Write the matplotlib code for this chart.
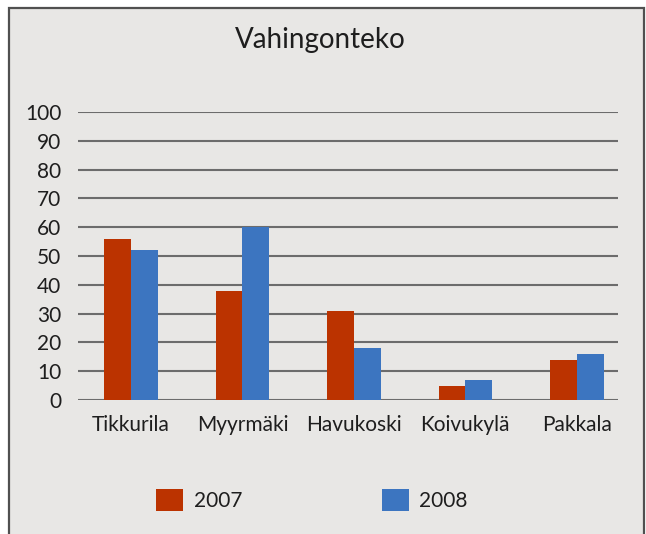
import matplotlib.pyplot as plt
import numpy as np
from matplotlib.patches import Rectangle

categories = ["Tikkurila", "Myyrmäki", "Havukoski", "Koivukylä", "Pakkala"]
values_2007 = [56, 38, 31, 5, 14]
values_2008 = [52, 60, 18, 7, 16]
series_labels = ["2007", "2008"]
yticks = list(range(0, 101, 10))

plt.rcParams['font.family'] = ['Lato', 'DejaVu Sans']

bg = "#e8e7e5"
red = "#bb3300"
blue = "#3c75c0"
txt = "#1e1e1e"

fig = plt.figure(figsize=(6.46, 5.34), dpi=100, facecolor="white")
# chart frame
fig.patches.append(Rectangle((9 / 646, -0.05), 635 / 646, 1.05 - 8 / 534,
                             transform=fig.transFigure, facecolor=bg,
                             edgecolor="#505050", linewidth=1.6, zorder=-1))

ax = fig.add_axes([78 / 646, 1 - 400 / 534, 540 / 646, 288 / 534])
ax.set_zorder(2)
ax.set_facecolor("none")

x = np.arange(len(categories))
w = 0.24
b1 = ax.bar(x - w / 2, values_2007, w, color=red, zorder=3, label=series_labels[0])
b2 = ax.bar(x + w / 2, values_2008, w, color=blue, zorder=3, label=series_labels[1])

ax.set_xlim(-0.475, 4.37)
ax.set_ylim(0, 100)
ax.set_yticks(yticks)
ax.set_xticks(x)
ax.set_xticklabels(categories)
ax.yaxis.grid(True, color="#6c6c6c", linewidth=1.5, zorder=1)
ax.set_axisbelow(True)
for s in ax.spines.values():
    s.set_visible(False)
ax.tick_params(length=0, labelsize=15, colors=txt)
ax.tick_params(axis="y", pad=12)
ax.tick_params(axis="x", pad=11)

fig.text(320 / 646, 1 - 40 / 534, "Vahingonteko", ha="center", va="center",
         fontsize=20, color=txt, zorder=3)

leg = fig.legend(handles=[b1, b2], labels=series_labels, loc="center",
                 bbox_to_anchor=(312 / 646, 1 - 500 / 534), ncol=2, frameon=False,
                 fontsize=15, handlelength=1.3, handleheight=1.3, handletextpad=0.5,
                 columnspacing=6.7, labelcolor=txt)
leg.set_zorder(3)

fig.savefig("out.png", dpi=100, facecolor=fig.get_facecolor())
